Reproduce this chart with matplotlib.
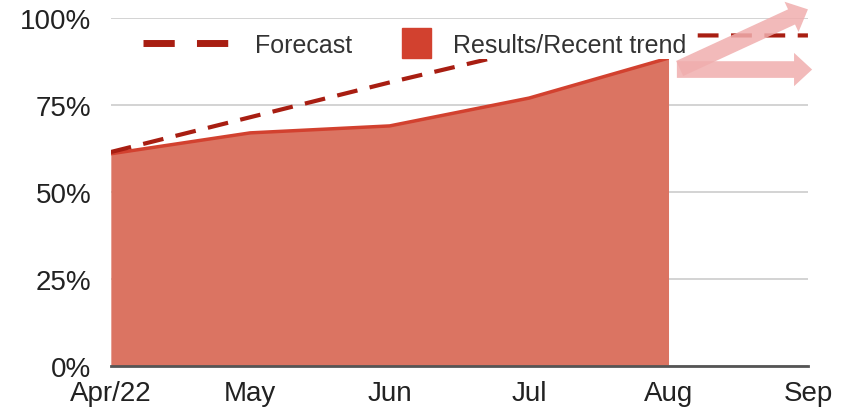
import numpy as np
import matplotlib.pyplot as plt
from matplotlib.lines import Line2D
from matplotlib.patches import Patch, Rectangle
from matplotlib.legend_handler import HandlerPatch

plt.rcParams['font.family'] = ['Liberation Sans', 'DejaVu Sans']

# ---- data ----
months = ['Apr/22', 'May', 'Jun', 'Jul', 'Aug', 'Sep']
results = [0.61, 0.67, 0.69, 0.77, 0.885]          # Apr..Aug
forecast = [0.615, 0.715, 0.815, 0.91, 0.95, 0.95]  # Apr..Sep
y_ticks = [0, 0.25, 0.5, 0.75, 1.0]
y_labels = ['0%', '25%', '50%', '75%', '100%']
# trend arrows: start (x, y) -> end (x, y), in month index / share
arrow_up = [(4.08, 0.855), (5.0, 1.025)]
arrow_flat = [(4.06, 0.852), (5.03, 0.852)]

fill_col = '#db7462'
edge_col = '#d2412f'
dash_col = '#a81e12'
arrow_col = '#f0aeae'

fig = plt.figure(figsize=(8.46, 4.14), dpi=100)
ax = fig.add_axes([0.131, 0.1135, 0.824, 0.8405])

x_res = np.arange(len(results))
x_all = np.arange(len(months))

ax.fill_between(x_res, 0, results, color=fill_col, lw=0, zorder=2)
ax.plot(x_res, results, color=edge_col, lw=2.5, zorder=3, solid_capstyle='butt')
ax.plot(x_all, forecast, color=dash_col, lw=3, dashes=(5, 3), zorder=4)

for (p0, p1) in [arrow_up, arrow_flat]:
    ax.annotate('', xy=p1, xytext=p0, xycoords='data', annotation_clip=False,
                arrowprops=dict(arrowstyle='simple,head_width=2.4,head_length=1.3,tail_width=1.2',
                                color=arrow_col, alpha=0.85, lw=0, shrinkA=0, shrinkB=0),
                zorder=6)

ax.set_xlim(0, 5)
ax.set_ylim(0, 1.0)
ax.set_yticks(y_ticks)
ax.set_yticklabels(y_labels)
ax.set_xticks(x_all)
ax.set_xticklabels(months)
ax.tick_params(length=0, labelsize=20, colors='#222222')
ax.tick_params(axis='x', pad=10)
ax.tick_params(axis='y', pad=14)

ax.grid(axis='y', color='#cccccc', lw=1.2, zorder=1)
for s in ['top', 'right', 'left']:
    ax.spines[s].set_visible(False)
ax.spines['bottom'].set_color('#555555')
ax.spines['bottom'].set_linewidth(2)
ax.spines['bottom'].set_zorder(5)


def square_handle(legend, orig_handle, xdescent, ydescent, width, height, fontsize):
    s = 21
    return Rectangle((width - s - xdescent, height / 2 - s / 2 - ydescent), s, s)


handles = [
    Line2D([], [], color=dash_col, lw=5, dashes=(4.5, 3.2)),
    Patch(color=edge_col),
]
leg = ax.legend(handles, ['Forecast', 'Results/Recent trend'], ncol=2,
                loc='upper left', bbox_to_anchor=(0.042, 0.965), frameon=True,
                fontsize=18, handlelength=3.6, columnspacing=-0.45,
                handletextpad=0.9, borderpad=0.1, borderaxespad=0,
                handler_map={Patch: HandlerPatch(patch_func=square_handle)})
leg.get_frame().set_edgecolor('none')
leg.get_frame().set_facecolor('white')
leg.get_frame().set_alpha(1)
leg.set_zorder(5)
for t in leg.get_texts():
    t.set_color('#333333')

fig.savefig('out.png', dpi=100)
